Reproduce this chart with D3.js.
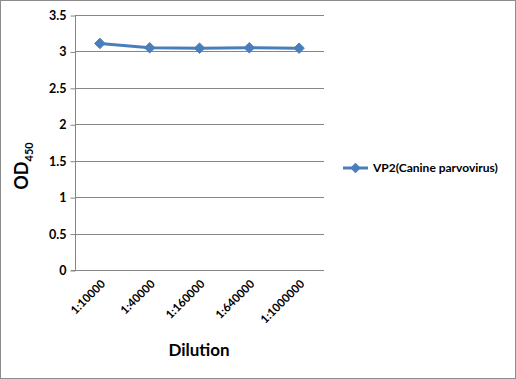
<!DOCTYPE html>
<html><head><meta charset="utf-8">
<script src="https://cdn.jsdelivr.net/npm/d3@7"></script>
<style>body{margin:0;background:#fff}svg{display:block}</style>
</head><body>
<script>
const categories = ["1:10000","1:40000","1:160000","1:640000","1:1000000"];
const values = [3.11, 3.05, 3.045, 3.05, 3.045];
const yTicks = [0, 0.5, 1, 1.5, 2, 2.5, 3, 3.5];
const seriesName = "VP2(Canine parvovirus)";

const W = 516, H = 379;
const svg = d3.select("body").append("svg").attr("width", W).attr("height", H);
svg.append("rect").attr("x",0.5).attr("y",0.5).attr("width",W-1).attr("height",H-1)
  .attr("fill","#fff").attr("stroke","#8c8c8c");

const font = "Lato, 'Open Sans', sans-serif";
const x = d3.scaleBand().domain(categories).range([75, 324]);
const y = d3.scaleLinear().domain([0, 3.5]).range([270, 15]);
const grid = "#868686";

// gridlines
svg.append("g").selectAll("line").data(yTicks.filter(d=>d>0)).join("line")
  .attr("x1",75).attr("x2",324).attr("y1",d=>Math.round(y(d))+0.5).attr("y2",d=>Math.round(y(d))+0.5)
  .attr("stroke",grid).attr("stroke-width",1);

// y axis
const ya = svg.append("g").attr("transform","translate(75.5,0.5)")
  .call(d3.axisLeft(y).tickValues(yTicks).tickSize(5).tickPadding(4).tickFormat(d3.format("")));
ya.select(".domain").attr("stroke",grid).attr("d","M0,"+Math.round(y(3.5))+"V"+Math.round(y(0)));
ya.selectAll(".tick line").attr("stroke",grid);
ya.selectAll(".tick text").attr("font-family",font).attr("font-size",12.5).attr("font-weight","bold").attr("fill","#000");

// x axis
const xa = svg.append("g").attr("transform","translate(0,"+(Math.round(y(0))+0.5)+")")
  .call(d3.axisBottom(x).tickSize(0).tickPadding(0));
xa.select(".domain").attr("stroke",grid).attr("d","M71,0H324");
xa.selectAll(".tick text").attr("font-family",font).attr("font-size",11.5).attr("font-weight","bold").attr("fill","#000")
  .attr("text-anchor","end").attr("dy",0).attr("transform","translate(6,14) rotate(-45)");

// line
const line = d3.line().x((d,i)=>x(categories[i])+x.bandwidth()/2).y(d=>y(d));
const blue = "#4a7ebb";
svg.append("path").datum(values).attr("d",line).attr("fill","none").attr("stroke",blue).attr("stroke-width",3);
const diamond = d3.symbol().type(d3.symbolDiamond2).size(70);
svg.append("g").selectAll("path").data(values).join("path")
  .attr("transform",(d,i)=>"translate("+(x(categories[i])+x.bandwidth()/2)+","+y(d)+")")
  .attr("d",diamond).attr("fill",blue).attr("stroke",blue).attr("stroke-width",1);

// axis titles
svg.append("text").attr("x",199).attr("y",356).attr("text-anchor","middle")
  .attr("font-family",font).attr("font-size",17).attr("font-weight","bold").text("Dilution");
const yt = svg.append("text").attr("transform","translate(28,166) rotate(-90)").attr("text-anchor","middle")
  .attr("font-family",font).attr("font-size",18).attr("font-weight","bold");
yt.append("tspan").text("OD");
yt.append("tspan").attr("font-size",11).attr("dy",5).text("450");

// legend
svg.append("line").attr("x1",343).attr("x2",368).attr("y1",168).attr("y2",168).attr("stroke",blue).attr("stroke-width",3);
svg.append("path").attr("transform","translate(355.5,168)").attr("d",diamond).attr("fill",blue);
svg.append("text").attr("x",373).attr("y",172).attr("font-family",font).attr("font-size",12).attr("font-weight","bold").text(seriesName);
</script>
</body></html>
